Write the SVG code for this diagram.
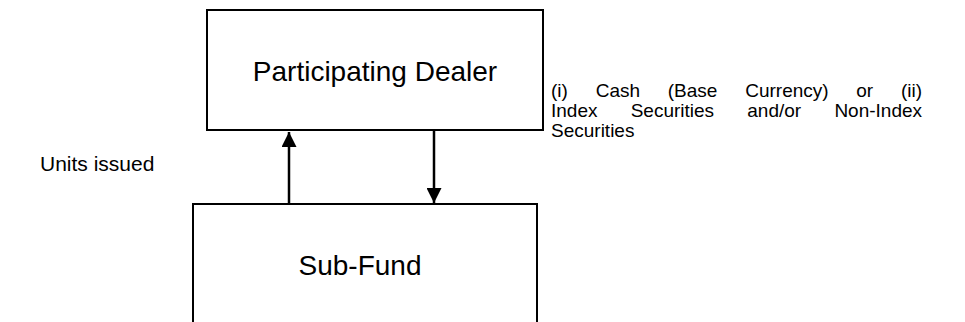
<svg xmlns="http://www.w3.org/2000/svg" width="965" height="322" viewBox="0 0 965 322">
  <style>
    .box { fill: #ffffff; stroke: #000000; stroke-width: 2; }
    .label { font-family: "Liberation Sans", Arial, sans-serif; fill: #000000; }
    .big { font-size: 28px; text-anchor: middle; }
    .side { font-size: 21px; }
    .note { font-size: 19px; }
    .flow { stroke: #000000; stroke-width: 2.5; fill: none; marker-end: url(#head); }
  </style>
  <defs>
    <marker id="head" viewBox="0 0 10 10" refX="10" refY="5" markerWidth="6" markerHeight="6" markerUnits="strokeWidth" orient="auto">
      <path d="M0,0 L10,5 L0,10 Z" fill="#000000"/>
    </marker>
  </defs>
  <rect width="965" height="322" fill="#ffffff"/>

  <g id="participating-dealer">
    <rect class="box" x="207" y="10" width="336" height="120"/>
    <text class="label big" x="375" y="81">Participating Dealer</text>
  </g>

  <g id="sub-fund">
    <rect class="box" x="193" y="204" width="344" height="140"/>
    <text class="label big" x="360" y="275">Sub-Fund</text>
  </g>

  <g id="connectors">
    <line class="flow" x1="289" y1="204" x2="289" y2="132"/>
    <line class="flow" x1="434" y1="130" x2="434" y2="203"/>
  </g>

  <g id="units-label">
    <text class="label side" x="40" y="171">Units issued</text>
  </g>

  <!-- justified three-line note: words placed one by one -->
  <g id="consideration-label">
    <text class="label note" y="97">
      <tspan x="551">(i)</tspan>
      <tspan x="595.7">Cash</tspan>
      <tspan x="667.8">(Base</tspan>
      <tspan x="745.2">Currency)</tspan>
      <tspan x="856.3">or</tspan>
      <tspan x="901">(ii)</tspan>
    </text>
    <text class="label note" y="117">
      <tspan x="551">Index</tspan>
      <tspan x="630.7">Securities</tspan>
      <tspan x="747.3">and/or</tspan>
      <tspan x="834.4">Non-Index</tspan>
    </text>
    <text class="label note" x="551" y="137">Securities</text>
  </g>
</svg>
